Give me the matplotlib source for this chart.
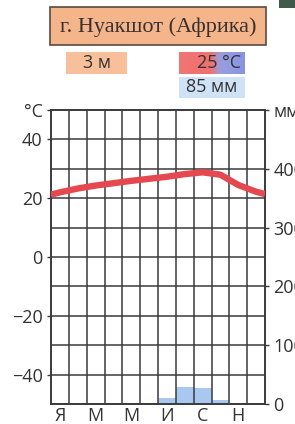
import matplotlib.pyplot as plt
import numpy as np
from matplotlib.colors import LinearSegmentedColormap
from matplotlib.patches import Rectangle

# --- data ---
months = ["Я", "Ф", "М", "А", "М", "И", "И", "А", "С", "О", "Н", "Д"]
temp_c = [22.0, 23.3, 24.3, 25.1, 25.9, 26.6, 27.3, 28.2, 28.8, 28.0, 24.5, 22.2]
temp_edges = [21.2, 21.4]  # line value at left / right frame edge
precip_mm = [1, 1, 1, 1, 1, 2, 10, 29, 28, 6, 1, 1]

title = "г. Нуакшот (Африка)"
height_label = "3 м"
temp_label = "25 °C"
precip_label = "85 мм"

left_ticks = [-40, -20, 0, 20, 40, 50]
left_labels = ["−40", "−20", "0", "20", "40", "°C"]
right_ticks = [0, 100, 200, 300, 400, 500]
right_labels = ["0", "100", "200", "300", "400", "мм"]

W, H = 295, 424
fig = plt.figure(figsize=(W / 100, H / 100), dpi=100)
fig.patch.set_facecolor("white")


def fx(px):
    return px / W


def fy(py):
    return 1 - py / H


grid_col = "#3a3a3a"
txt_col = "#333333"
lab_size = 13

# --- main chart ---
ax = fig.add_axes([fx(51), fy(404), fx(265) - fx(51), fy(110) - fy(404)])
ax2 = ax.twinx()
ax.set_zorder(ax2.get_zorder() + 1)
ax.patch.set_visible(False)

x_centers = np.arange(12) + 0.5
ax2.bar(x_centers, precip_mm, width=1.0, color="#a9c8f0", edgecolor="none", zorder=1)
ax2.set_ylim(0, 500)
ax2.set_yticks(right_ticks)
ax2.set_yticklabels(right_labels)

ax.set_xlim(0, 12)
ax.set_ylim(-50, 50)
for v in range(-40, 50, 10):
    ax.axhline(v, color=grid_col, lw=1.1, zorder=2)
for m in range(1, 12):
    ax.axvline(m, color=grid_col, lw=1.1, zorder=2)

line_x = np.concatenate([[0], x_centers, [12]])
line_y = np.concatenate([[temp_edges[0]], temp_c, [temp_edges[1]]])
ax.plot(line_x, line_y, color="#e5484f", lw=4.6, solid_capstyle="butt",
        solid_joinstyle="round", zorder=3)

ax.set_yticks(left_ticks)
ax.set_yticklabels(left_labels)
ax.set_xticks(x_centers[::2])
ax.set_xticklabels(months[::2])

for a in (ax, ax2):
    for s in a.spines.values():
        s.set_color(grid_col)
        s.set_linewidth(1.2)
ax.tick_params(axis="y", length=3, width=1, color=grid_col, pad=3,
               labelsize=lab_size, labelcolor=txt_col)
ax.tick_params(axis="x", length=0, pad=2, labelsize=lab_size, labelcolor=txt_col)
ax2.tick_params(axis="y", length=3, width=1, color=grid_col, pad=3,
                labelsize=lab_size, labelcolor=txt_col)
for lab in ax.get_yticklabels() + ax2.get_yticklabels() + ax.get_xticklabels():
    lab.set_family("Open Sans")

# --- header boxes ---
orange = "#f5b58a"
fig.patches.append(Rectangle((fx(50), fy(45)), fx(266) - fx(50), fy(7) - fy(45),
                             transform=fig.transFigure, facecolor=orange,
                             edgecolor="#5a4a40", lw=1.2))
fig.text(fx(158), fy(27), title, ha="center", va="center", fontsize=16,
         family="Liberation Serif", color="#3a3030")

fig.patches.append(Rectangle((fx(66), fy(74)), fx(127) - fx(66), fy(52) - fy(74),
                             transform=fig.transFigure, facecolor="#f8c09a",
                             edgecolor="none"))
fig.text(fx(97), fy(63.5), height_label, ha="center", va="center", fontsize=lab_size,
         family="Open Sans", color=txt_col)

gax = fig.add_axes([fx(179), fy(74), fx(245) - fx(179), fy(52) - fy(74)])
cmap = LinearSegmentedColormap.from_list(
    "tb", [(0, "#f07674"), (0.48, "#f07070"), (0.62, "#9a9ee0"), (1, "#8894e2")])
gax.imshow(np.linspace(0, 1, 100)[None, :], aspect="auto", cmap=cmap,
           extent=[0, 1, 0, 1])
gax.set_axis_off()
fig.text(fx(219), fy(63.5), temp_label, ha="center", va="center", fontsize=lab_size,
         family="Open Sans", color=txt_col)

fig.patches.append(Rectangle((fx(179), fy(98)), fx(245) - fx(179), fy(77) - fy(98),
                             transform=fig.transFigure, facecolor="#cfe2f8",
                             edgecolor="none"))
fig.text(fx(212), fy(87.5), precip_label, ha="center", va="center", fontsize=lab_size,
         family="Open Sans", color=txt_col)

# dark scan mark in the top-right corner
fig.patches.append(Rectangle((fx(279), fy(8)), fx(295) - fx(279), fy(0) - fy(8),
                             transform=fig.transFigure, facecolor="#3f5a48",
                             edgecolor="none"))

fig.savefig("out.png", dpi=100)
